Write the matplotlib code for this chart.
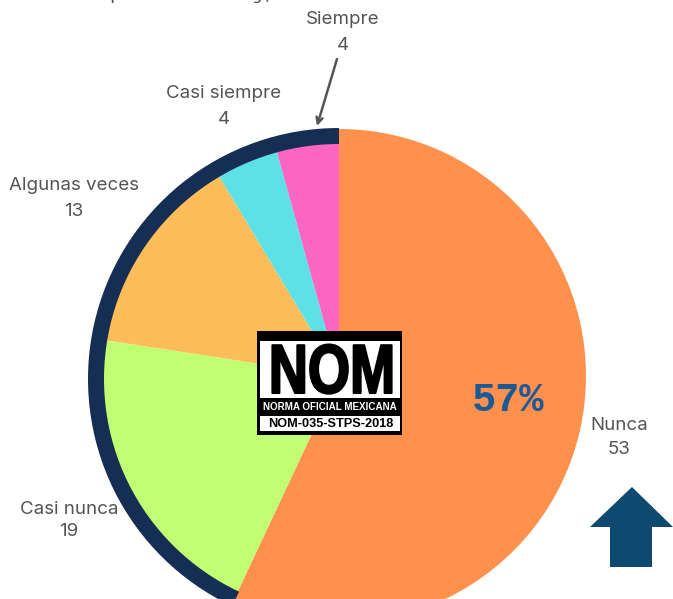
import matplotlib
matplotlib.use("Agg")
import matplotlib.pyplot as plt
import matplotlib.patches as patches
import matplotlib.patheffects as path_effects
from matplotlib.transforms import Affine2D

W, H = 673, 599

categories = ['Nunca', 'Casi nunca', 'Algunas veces', 'Casi siempre', 'Siempre']
values = [53, 19, 13, 4, 4]
colors = ['#ff914d', '#c1ff72', '#ffbd59', '#5ce1e6', '#ff66c4']
# label centres in image pixels
label_x = [619, 69, 74, 224, 343]
label_y = [426, 509, 185, 93, 19]
value_y = [450, 532, 212, 120, 46]
percent_text = '57%'
logo_big = 'NOM'
logo_mid = 'NORMA OFICIAL MEXICANA'
logo_small = 'NOM-035-STPS-2018'
# bits of the cropped line at the very top of the picture
top_bits = ['p', 'j,']
top_bits_x = [115, 265]

plt.rcParams['font.family'] = ['Inter', 'DejaVu Sans']


def yy(y):
    # image pixel row to data y
    return H - y


class Squeeze(path_effects.AbstractPathEffect):
    # narrows a text around pixel column cx and thickens it, no condensed font is installed
    def __init__(self, cx, sx, lw):
        super().__init__()
        self.cx = cx
        self.sx = sx
        self.lw = lw

    def draw_path(self, renderer, gc, tpath, affine, rgbFace=None):
        squeeze = Affine2D().translate(-self.cx, 0).scale(self.sx, 1).translate(self.cx, 0)
        gc0 = renderer.new_gc()
        gc0.copy_properties(gc)
        gc0.set_linewidth(self.lw)
        gc0.set_foreground('black')
        renderer.draw_path(gc0, tpath, affine + squeeze, rgbFace)
        gc0.restore()


fig = plt.figure(figsize=(W / 100, H / 100), dpi=100)
ax = fig.add_axes([0, 0, 1, 1])

# pie, clockwise from 12 o'clock
ax.pie(values, colors=colors, startangle=90, counterclock=False,
       center=(339, yy(376)), radius=247, frame=True)
ax.set_xlim(0, W)
ax.set_ylim(0, H)
ax.set_aspect('equal')
ax.axis('off')

# dark band around everything except the Nunca slice
end_angle = 90 + 360 * sum(values[1:]) / sum(values)
ax.add_patch(patches.Wedge((339, yy(379)), 251, 90, end_angle, width=16,
                           facecolor='#162d54', edgecolor='none', zorder=5))

for name, val, x, y, vy in zip(categories, values, label_x, label_y, value_y):
    ax.text(x, yy(y), name, ha='center', va='center', fontsize=13.5, color='#555555')
    ax.text(x, yy(vy), str(val), ha='center', va='center', fontsize=13.5, color='#555555')

for bit, x in zip(top_bits, top_bits_x):
    ax.text(x, yy(-1), bit, ha='center', va='baseline', fontsize=14, color='#555555',
            family=['Liberation Mono'])

# arrow Siempre -> slice
ax.annotate('', xy=(317, yy(126)), xytext=(337, yy(59)),
            arrowprops=dict(arrowstyle='->', color='#555555', lw=1.8, mutation_scale=11,
                            shrinkA=0, shrinkB=0),
            zorder=6)

ax.text(508, yy(400), percent_text, ha='center', va='center', fontsize=29,
        fontweight='bold', color='#1c5a96', family=['Liberation Mono'])

# up arrow bottom right
ax.add_patch(patches.Polygon([(632, yy(487)), (673, yy(527)), (652, yy(527)), (652, yy(567)),
                              (610, yy(567)), (610, yy(527)), (590, yy(527))],
                             closed=True, facecolor='#0e4a70', edgecolor='none', zorder=6))

# NOM logo
ax.add_patch(patches.Rectangle((257, yy(435)), 145, 104, facecolor='black', edgecolor='none', zorder=7))
ax.add_patch(patches.Rectangle((260, yy(398)), 140, 57, facecolor='white', edgecolor='none', zorder=8))
ax.add_patch(patches.Rectangle((260, yy(431)), 140, 15, facecolor='white', edgecolor='none', zorder=8))
ax.text(332, yy(375), logo_big, ha='center', va='center', fontsize=50, fontweight='bold',
        color='black', family=['Liberation Sans'], zorder=9,
        path_effects=[Squeeze(332, 0.78, 1.5)])
ax.text(330, yy(407), logo_mid, ha='center', va='center', fontsize=7.1, fontweight='bold',
        color='white', family=['Liberation Sans'], zorder=9)
ax.text(331, yy(424), logo_small, ha='center', va='center', fontsize=9.2, fontweight='bold',
        color='black', family=['Liberation Sans'], zorder=9)

fig.savefig('out.png', dpi=100, facecolor='white')
